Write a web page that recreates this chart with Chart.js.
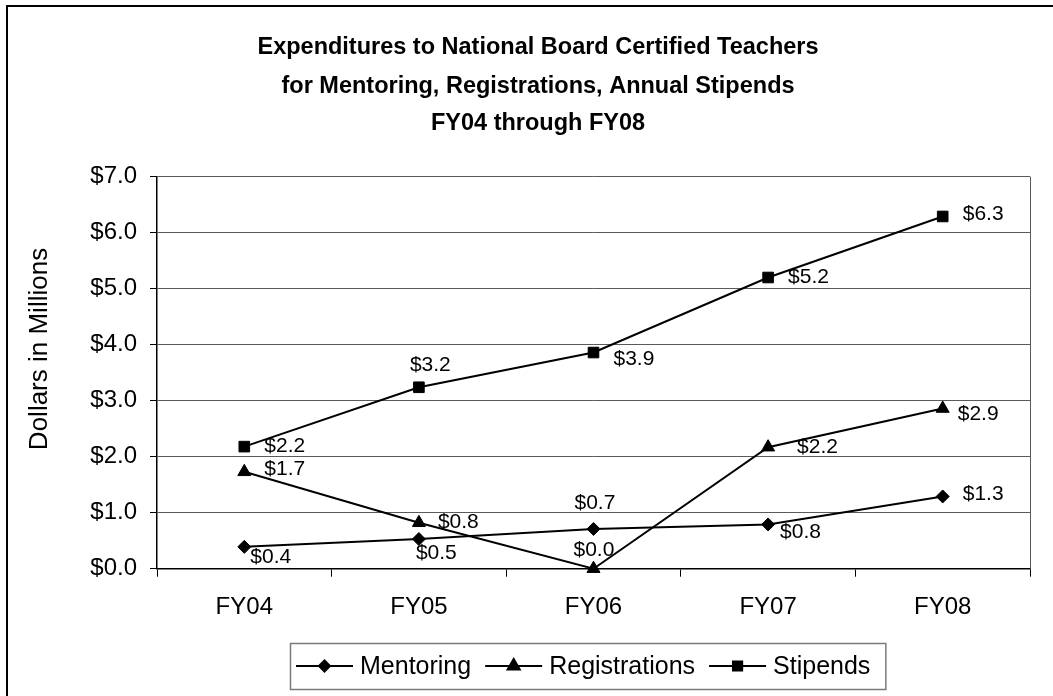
<!DOCTYPE html>
<html><head><meta charset="utf-8">
<style>html,body{margin:0;padding:0;background:#fff;}canvas{display:block;}</style>
<script src="https://cdn.jsdelivr.net/npm/chart.js@4/dist/chart.umd.min.js"></script>
</head><body>
<canvas id="c" width="1053" height="696" style="width:1053px;height:696px"></canvas>
<script>
// ---- data ----
const categories = ['FY04', 'FY05', 'FY06', 'FY07', 'FY08'];
const mentoring = [0.39, 0.53, 0.71, 0.79, 1.29];
const registrations = [1.73, 0.82, 0.0, 2.17, 2.86];
const stipends = [2.18, 3.24, 3.86, 5.20, 6.29];
const seriesNames = ['Mentoring', 'Registrations', 'Stipends'];
const yMin = 0, yMax = 7, yStep = 1;
const titleLines = [
  'Expenditures to National Board Certified Teachers',
  'for Mentoring, Registrations, Annual Stipends',
  'FY04 through FY08'
];
const yTitle = 'Dollars in Millions';

// ---- style ----
const FONT = "'Liberation Sans', Arial, Helvetica, sans-serif";
const money = v => '$' + Number(v).toFixed(1);
// label placement (dx from point to text left edge, dy to text middle)
const labelOffsets = [
  [[6, 10], [-3, 14], [-19, -26], [12, 8], [20, -2]],
  [[20, -3], [19, -1], [-20, -18], [29, 0], [15, 6]],
  [[20, 0], [-9, -22], [20, 7], [20, 0], [20, -2]]
];
const markers = [
  {style: 'rectRot', r: 6.5, lr: 5.5},
  {style: 'triangle', r: 7.5, lr: 7},
  {style: 'rect', r: 7.5, lr: 6.5}
];
const titleStyle = {cx: 538, ys: [48, 87, 124], size: 23.5};
const yTitleStyle = {x: 40, cy: 349, size: 26};

const decor = {
  id: 'decor',
  beforeDraw(chart) {
    const ctx = chart.ctx;
    ctx.save();
    ctx.fillStyle = '#fff';
    ctx.fillRect(0, 0, chart.width, chart.height);
    ctx.restore();
  },
  beforeDatasetsDraw(chart) {
    const {ctx, chartArea: a} = chart;
    ctx.save();
    ctx.strokeStyle = '#5a5a5a';
    ctx.lineWidth = 1;
    ctx.beginPath();
    ctx.moveTo(a.right + 0.5, a.top);
    ctx.lineTo(a.right + 0.5, a.bottom);
    ctx.stroke();
    ctx.restore();
  },
  afterDatasetsDraw(chart) {
    const ctx = chart.ctx;
    ctx.save();
    ctx.font = '21px ' + FONT;
    ctx.fillStyle = '#000';
    ctx.textAlign = 'left';
    ctx.textBaseline = 'middle';
    chart.data.datasets.forEach((ds, i) => {
      const meta = chart.getDatasetMeta(i);
      meta.data.forEach((pt, j) => {
        const off = labelOffsets[i][j];
        ctx.fillText(money(ds.data[j]), pt.x + off[0], pt.y + off[1]);
      });
    });
    ctx.restore();
  },
  afterDraw(chart) {
    const ctx = chart.ctx;
    ctx.save();
    // outer border
    ctx.strokeStyle = '#000';
    ctx.lineWidth = 2;
    ctx.beginPath();
    ctx.moveTo(7, chart.height + 5);
    ctx.lineTo(7, 6);
    ctx.lineTo(chart.width + 5, 6);
    ctx.stroke();

    // title
    ctx.fillStyle = '#000';
    ctx.font = 'bold ' + titleStyle.size + 'px ' + FONT;
    ctx.textAlign = 'center';
    ctx.textBaseline = 'middle';
    titleLines.forEach((t, i) => ctx.fillText(t, titleStyle.cx, titleStyle.ys[i]));

    // y axis title
    ctx.save();
    ctx.translate(yTitleStyle.x, yTitleStyle.cy);
    ctx.rotate(-Math.PI / 2);
    ctx.font = yTitleStyle.size + 'px ' + FONT;
    ctx.textAlign = 'center';
    ctx.textBaseline = 'middle';
    ctx.fillText(yTitle, 0, 0);
    ctx.restore();

    // legend
    const fs = 25;
    ctx.font = fs + 'px ' + FONT;
    const seg = 57, gapText = 7, gapItem = 14, padL = 6, padR = 15;
    let total = padL + padR;
    const widths = seriesNames.map(n => ctx.measureText(n).width);
    widths.forEach((w, i) => { total += seg + gapText + w + (i < widths.length - 1 ? gapItem : 0); });
    const cx = 588, boxTop = 643, boxH = 46;
    const left = Math.round(cx - total / 2);
    ctx.strokeStyle = '#7a7a7a';
    ctx.lineWidth = 1.5;
    ctx.strokeRect(left + 0.5, boxTop + 0.5, total, boxH);
    const cy = boxTop + boxH / 2;
    let x = left + padL;
    seriesNames.forEach((n, i) => {
      ctx.strokeStyle = '#000';
      ctx.lineWidth = 2;
      ctx.beginPath();
      ctx.moveTo(x, cy);
      ctx.lineTo(x + seg, cy);
      ctx.stroke();
      ctx.fillStyle = '#000';
      Chart.helpers.drawPoint(ctx, {pointStyle: markers[i].style, radius: markers[i].lr, borderWidth: 1, rotation: 0}, x + seg / 2, cy);
      ctx.fillStyle = '#000';
      ctx.fill();
      ctx.textAlign = 'left';
      ctx.textBaseline = 'middle';
      ctx.fillText(n, x + seg + gapText, cy + 1);
      x += seg + gapText + widths[i] + gapItem;
    });
    ctx.restore();
  }
};

const mk = (label, data, i) => ({
  label, data,
  borderColor: '#000', backgroundColor: '#000', borderWidth: 2,
  pointStyle: markers[i].style, pointRadius: markers[i].r,
  pointBackgroundColor: '#000', pointBorderColor: '#000', pointBorderWidth: 1,
  tension: 0, fill: false, clip: false
});

new Chart(document.getElementById('c'), {
  type: 'line',
  data: {
    labels: categories,
    datasets: [
      mk(seriesNames[0], mentoring, 0),
      mk(seriesNames[1], registrations, 1),
      mk(seriesNames[2], stipends, 2)
    ]
  },
  plugins: [decor],
  options: {
    responsive: false,
    animation: false,
    events: [],
    layout: {padding: {left: 0, right: 23, top: 176.7, bottom: 0}},
    plugins: {
      legend: {display: false},
      tooltip: {enabled: false},
      title: {display: false}
    },
    scales: {
      x: {
        offset: true,
        grid: {offset: true, drawOnChartArea: false, drawTicks: true, tickLength: 8, tickColor: '#000', tickWidth: 1},
        border: {display: true, color: '#000', width: 1.5},
        ticks: {color: '#000', font: {family: FONT, size: 24}, padding: 16, maxRotation: 0},
        afterFit(s) { s.height = 127.3; }
      },
      y: {
        min: yMin, max: yMax,
        grid: {color: '#5a5a5a', lineWidth: 1, drawTicks: true, tickLength: 7, tickColor: '#000'},
        border: {display: true, color: '#000', width: 1.5},
        ticks: {stepSize: yStep, color: '#000', font: {family: FONT, size: 24}, padding: 13, callback: v => money(v)},
        title: {display: false},
        afterFit(s) { s.width = 157; }
      }
    }
  }
});
</script>
</body></html>
